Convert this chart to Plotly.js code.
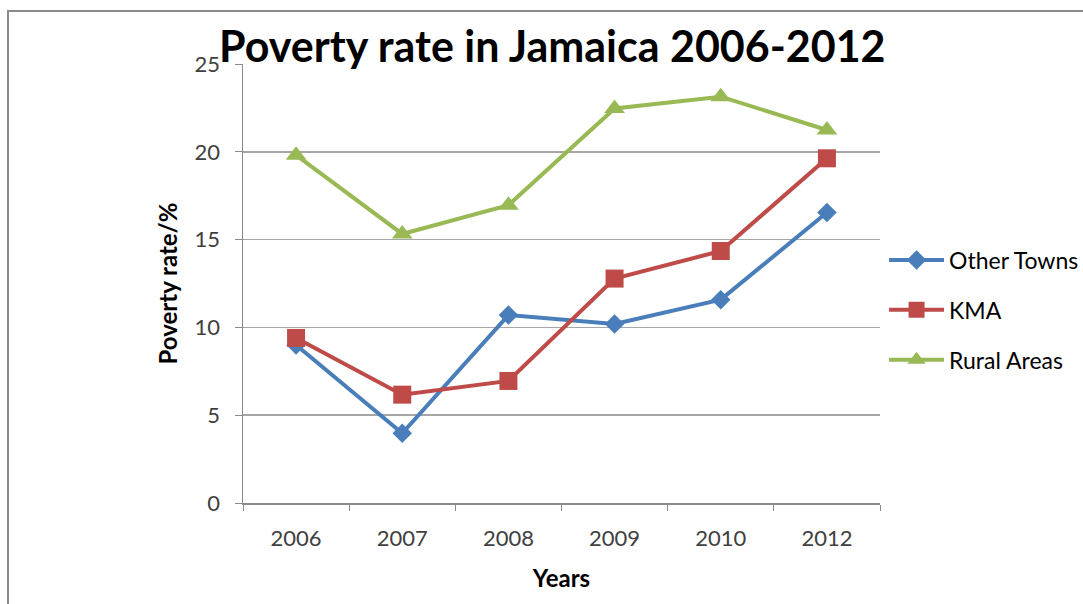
<!DOCTYPE html>
<html>
<head>
<meta charset="utf-8">
<script src="https://cdn.plot.ly/plotly-3.0.1.min.js"></script>
<style>
  html, body { margin: 0; padding: 0; background: #fff; }
  #chart { width: 1083px; height: 604px; position: absolute; left: 0; top: 0; }
  #frame { position: absolute; left: 7px; top: 10px; width: 1100px; height: 620px;
           border-left: 2px solid #8a8a8a; border-top: 2px solid #8a8a8a; pointer-events: none; }
</style>
</head>
<body>
<div id="chart"></div>
<div id="frame"></div>
<script>
const years = ['2006', '2007', '2008', '2009', '2010', '2012'];
const otherTowns = [9.0, 3.97, 10.7, 10.2, 11.58, 16.54];
const kma = [9.4, 6.17, 6.95, 12.78, 14.35, 19.63];
const ruralAreas = [19.81, 15.32, 16.96, 22.47, 23.14, 21.24];
const yTicks = [0, 5, 10, 15, 20, 25];

const font = 'Lato, "Open Sans", sans-serif';

function series(name, values, color, symbol, size) {
  return {
    x: years, y: values, name: name, type: 'scatter', mode: 'lines+markers',
    legendgroup: name,
    line: { color: color, width: 4 },
    marker: { color: color, symbol: symbol, size: size }
  };
}

const data = [
  series('Other Towns', otherTowns, '#4A7EBB', 'diamond', 15),
  series('KMA', kma, '#BE4B48', 'square', 18),
  series('Rural Areas', ruralAreas, '#98B954', 'triangle-up', 18)
];

const layout = {
  width: 1083, height: 604,
  margin: { l: 243, r: 203, t: 64, b: 101 },
  paper_bgcolor: '#ffffff', plot_bgcolor: '#ffffff',
  font: { family: font, color: '#404040', size: 22 },
  title: {
    text: 'Poverty rate in Jamaica 2006-2012',
    font: { family: font, size: 43, color: '#000000', weight: 'bold' },
    x: 0.51, xanchor: 'center', y: 0.922, yanchor: 'middle'
  },
  xaxis: {
    type: 'category', range: [-0.5, 5.5],
    tickson: 'boundaries', ticks: 'outside', ticklen: 6, tickcolor: '#8a8a8a', tickwidth: 1,
    showline: true, linecolor: '#8a8a8a', linewidth: 1.5,
    showgrid: false, zeroline: false, automargin: false,
    tickfont: { family: font, size: 22, color: '#404040' },
    ticklabelstandoff: 15,
    title: { text: 'Years', font: { family: font, size: 24, color: '#000000', weight: 'bold' }, standoff: 20 }
  },
  yaxis: {
    range: [0, 25], tickvals: yTicks, ticktext: yTicks.map(String),
    ticks: 'outside', ticklen: 7, tickcolor: '#8a8a8a', tickwidth: 1,
    showline: true, linecolor: '#8a8a8a', linewidth: 1.5,
    showgrid: true, gridcolor: '#a6a6a6', gridwidth: 1.5, zeroline: false, automargin: false,
    tickfont: { family: font, size: 22, color: '#404040' },
    ticklabelstandoff: 10,
    title: { text: 'Poverty rate/%', font: { family: font, size: 24, color: '#000000', weight: 'bold' }, standoff: 10 }
  },
  showlegend: true,
  legend: {
    xref: 'container', yref: 'container',
    x: 0.8163, xanchor: 'left', y: 0.4868, yanchor: 'middle',
    font: { family: font, size: 23, color: '#000000' },
    itemwidth: 55,
    tracegroupgap: 17, bgcolor: 'rgba(0,0,0,0)', traceorder: 'grouped'
  }
};

Plotly.newPlot('chart', data, layout, { staticPlot: true, displayModeBar: false });
</script>
</body>
</html>
